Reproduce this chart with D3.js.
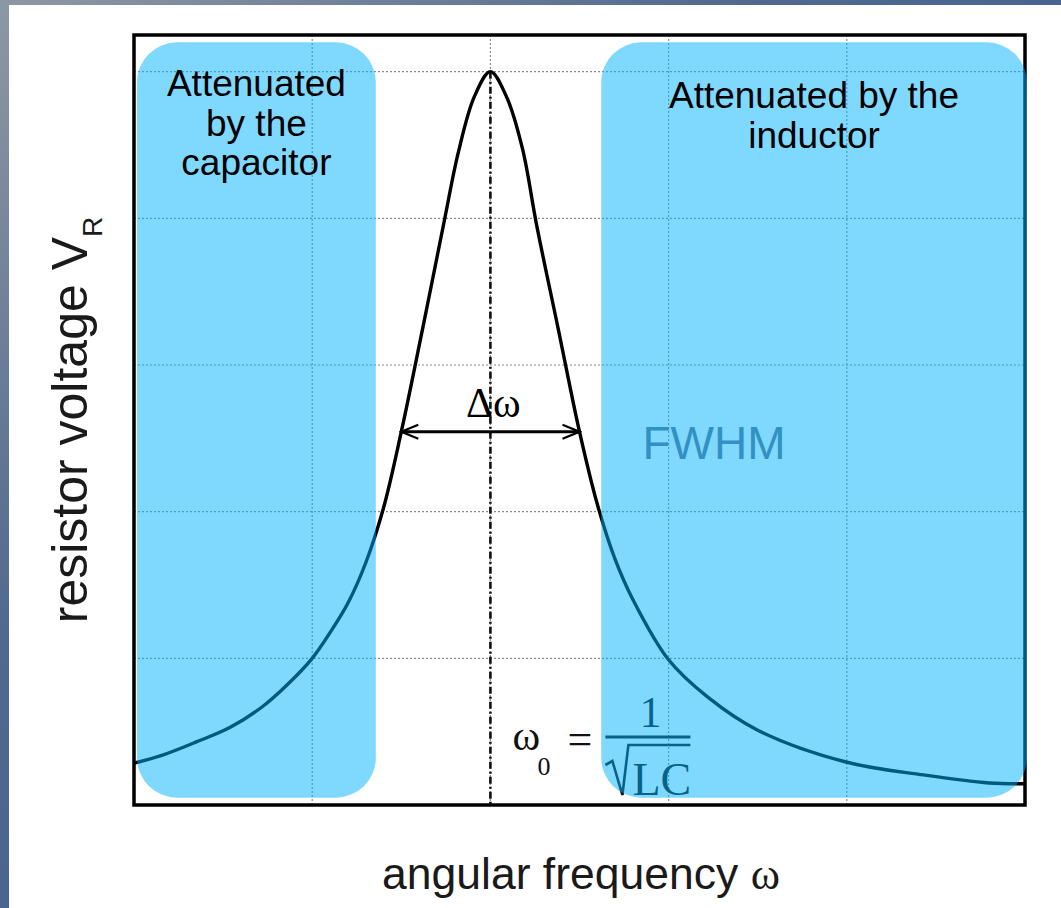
<!DOCTYPE html>
<html>
<head>
<meta charset="utf-8">
<script src="https://cdn.jsdelivr.net/npm/d3@7"></script>
<style>
  html, body { margin: 0; padding: 0; background: #fff; }
  svg { display: block; }
</style>
</head>
<body>
<div id="chart"></div>
<script>
// resonance curve (omega0 sits at x = 2)
const freqs = [0, 0.16, 0.35, 0.54, 0.72, 0.86, 1.0, 1.1, 1.2, 1.3, 1.4, 1.5, 1.62, 1.74, 1.82, 1.91, 2.0, 2.09, 2.18, 2.26, 2.38, 2.5, 2.6, 2.7, 2.8, 3.0, 3.22, 3.5, 3.99, 4.43, 4.8, 5.0];
const volts = [0.057, 0.068, 0.086, 0.106, 0.134, 0.164, 0.2, 0.235, 0.275, 0.33, 0.405, 0.509, 0.65, 0.795, 0.89, 0.966, 1.0, 0.966, 0.895, 0.79, 0.65, 0.509, 0.41, 0.335, 0.28, 0.198, 0.147, 0.102, 0.059, 0.041, 0.03, 0.029];

const xGridTicks = [1, 2, 3, 4];
const yGridTicks = [0.2, 0.4, 0.6, 0.8, 1.0];

const omega0 = 2;
const halfLevel = 0.509;
const fwhmRange = [1.5, 2.5];

const regionNames = ["capacitor", "inductor"];
const regionRanges = [[0.017, 1.357], [2.622, 5.01]];
const regionLabels = [["Attenuated", "by the", "capacitor"], ["Attenuated by the", "inductor"]];

const width = 1061, height = 908;

const svg = d3.select("#chart").append("svg")
  .attr("width", width)
  .attr("height", height);

// slide background: gradient edge, white page
const defs = svg.append("defs");
const grad = defs.append("linearGradient")
  .attr("id", "edge")
  .attr("x1", "0").attr("y1", "0").attr("x2", "1").attr("y2", "1");
grad.append("stop").attr("offset", "0%").attr("stop-color", "#8d98a5");
grad.append("stop").attr("offset", "35%").attr("stop-color", "#51698f");
grad.append("stop").attr("offset", "100%").attr("stop-color", "#3a5793");

svg.append("rect").attr("width", width).attr("height", height).attr("fill", "url(#edge)");
svg.append("rect").attr("x", 9).attr("y", 5).attr("width", width - 9).attr("height", height - 5).attr("fill", "#fff");

const xScale = d3.scaleLinear().domain([0, 5]).range([134, 1025]);
const yScale = d3.scaleLinear().domain([0, 1.05]).range([805, 35]);

const plot = svg.append("g");

// dotted grid
plot.append("g").selectAll("line").data(xGridTicks).enter().append("line")
  .attr("x1", (d) => xScale(d)).attr("x2", (d) => xScale(d))
  .attr("y1", yScale(1.05)).attr("y2", yScale(0))
  .attr("stroke", "#8a8a8a").attr("stroke-width", 1.2)
  .attr("stroke-dasharray", "2,2");

plot.append("g").selectAll("line").data(yGridTicks).enter().append("line")
  .attr("x1", xScale(0)).attr("x2", xScale(5))
  .attr("y1", (d) => yScale(d)).attr("y2", (d) => yScale(d))
  .attr("stroke", "#8a8a8a").attr("stroke-width", 1.2)
  .attr("stroke-dasharray", "2,2");

// omega0 dash-dot line
plot.append("line")
  .attr("x1", xScale(omega0)).attr("x2", xScale(omega0))
  .attr("y1", yScale(1.0)).attr("y2", yScale(0))
  .attr("stroke", "#111").attr("stroke-width", 2.6)
  .attr("stroke-dasharray", "7,3,2,3");

// curve
const points = freqs.map((f, i) => [f, volts[i]]);
const line = d3.line()
  .x((d) => xScale(d[0]))
  .y((d) => yScale(d[1]))
  .curve(d3.curveCatmullRom.alpha(0.5));

plot.append("path")
  .datum(points)
  .attr("d", line)
  .attr("fill", "none")
  .attr("stroke", "#000")
  .attr("stroke-width", 3.4)
  .attr("stroke-linejoin", "round");

// FWHM double arrow
const marker = defs.append("marker")
  .attr("id", "arrowhead")
  .attr("viewBox", "-18 -9 20 18")
  .attr("refX", 0).attr("refY", 0)
  .attr("markerWidth", 20).attr("markerHeight", 18)
  .attr("markerUnits", "userSpaceOnUse")
  .attr("orient", "auto-start-reverse");
marker.append("path")
  .attr("d", "M-17,-7 L0,0 L-17,7")
  .attr("fill", "none").attr("stroke", "#000").attr("stroke-width", 2.2);

plot.append("line")
  .attr("x1", xScale(fwhmRange[0])).attr("x2", xScale(fwhmRange[1]))
  .attr("y1", yScale(halfLevel)).attr("y2", yScale(halfLevel))
  .attr("stroke", "#000").attr("stroke-width", 3.2)
  .attr("marker-start", "url(#arrowhead)")
  .attr("marker-end", "url(#arrowhead)");

const serif = "'Liberation Serif', 'Times New Roman', serif";
const sans = "'Liberation Sans', Arial, Helvetica, sans-serif";

plot.append("text")
  .attr("x", xScale(omega0) + 3)
  .attr("y", yScale(halfLevel) - 15)
  .attr("text-anchor", "middle")
  .style("font-family", serif)
  .style("font-size", "42px")
  .text("\u0394\u03c9");

// omega0 = 1 / sqrt(LC)
const fx = xScale(omega0);
const fy = yScale(0);
const formula = plot.append("g").style("font-family", serif).attr("fill", "#111");
formula.append("text").attr("x", fx + 22).attr("y", fy - 55)
  .style("font-size", "42px").text("\u03c9");
formula.append("text").attr("x", fx + 47).attr("y", fy - 30)
  .style("font-size", "26px").text("0");
formula.append("text").attr("x", fx + 77).attr("y", fy - 51)
  .style("font-size", "44px").text("=");
formula.append("text").attr("x", fx + 160).attr("y", fy - 78)
  .attr("text-anchor", "middle")
  .style("font-size", "44px").text("1");
formula.append("line")
  .attr("x1", fx + 115).attr("x2", fx + 200)
  .attr("y1", fy - 68).attr("y2", fy - 68)
  .attr("stroke", "#111").attr("stroke-width", 3);
formula.append("path")
  .attr("d", `M${fx + 115},${fy - 40} L${fx + 122},${fy - 44} L${fx + 132},${fy - 10} L${fx + 138},${fy - 60} L${fx + 200},${fy - 60}`)
  .attr("fill", "none").attr("stroke", "#111").attr("stroke-width", 2.6);
formula.append("text").attr("x", fx + 142).attr("y", fy - 10)
  .style("font-size", "46px").text("LC");

// frame
plot.append("rect")
  .attr("x", xScale(0)).attr("y", yScale(1.05))
  .attr("width", xScale(5) - xScale(0))
  .attr("height", yScale(0) - yScale(1.05))
  .attr("fill", "none").attr("stroke", "#000").attr("stroke-width", 3.5);

// attenuation regions
const regions = svg.append("g");
regionRanges.forEach((r, i) => {
  const x0 = xScale(r[0]), x1 = xScale(r[1]);
  regions.append("rect")
    .attr("class", "region " + regionNames[i])
    .attr("x", x0).attr("y", yScale(1.04))
    .attr("width", x1 - x0)
    .attr("height", yScale(0.01) - yScale(1.04))
    .attr("rx", 40).attr("ry", 40)
    .attr("fill", "#00b4ff").attr("fill-opacity", 0.5);

  const label = regions.append("text")
    .attr("text-anchor", "middle")
    .style("font-family", sans)
    .style("font-size", "37px")
    .attr("fill", "#000");
  regionLabels[i].forEach((t, j) => {
    label.append("tspan")
      .attr("x", (x0 + x1) / 2)
      .attr("y", (i == 0 ? 96 : 108) + j * 39.5)
      .text(t);
  });
});

svg.append("text")
  .attr("x", 714).attr("y", 459)
  .attr("text-anchor", "middle")
  .style("font-family", sans)
  .style("font-size", "46px")
  .attr("fill", "#3390c2")
  .text("FWHM");

// axis labels
const xLabel = svg.append("text")
  .attr("x", 581).attr("y", 889)
  .attr("text-anchor", "middle")
  .style("font-family", sans)
  .style("font-size", "44.5px")
  .attr("fill", "#1a1a1a");
xLabel.append("tspan").text("angular frequency ");
xLabel.append("tspan").style("font-family", serif).text("\u03c9");

const yLabel = svg.append("text")
  .attr("transform", "translate(87,420) rotate(-90)")
  .attr("text-anchor", "middle")
  .style("font-family", sans)
  .style("font-size", "50px")
  .attr("fill", "#1a1a1a");
yLabel.append("tspan").text("resistor voltage V");
yLabel.append("tspan").attr("dy", 15).style("font-size", "28px").text("R");
</script>
</body>
</html>
